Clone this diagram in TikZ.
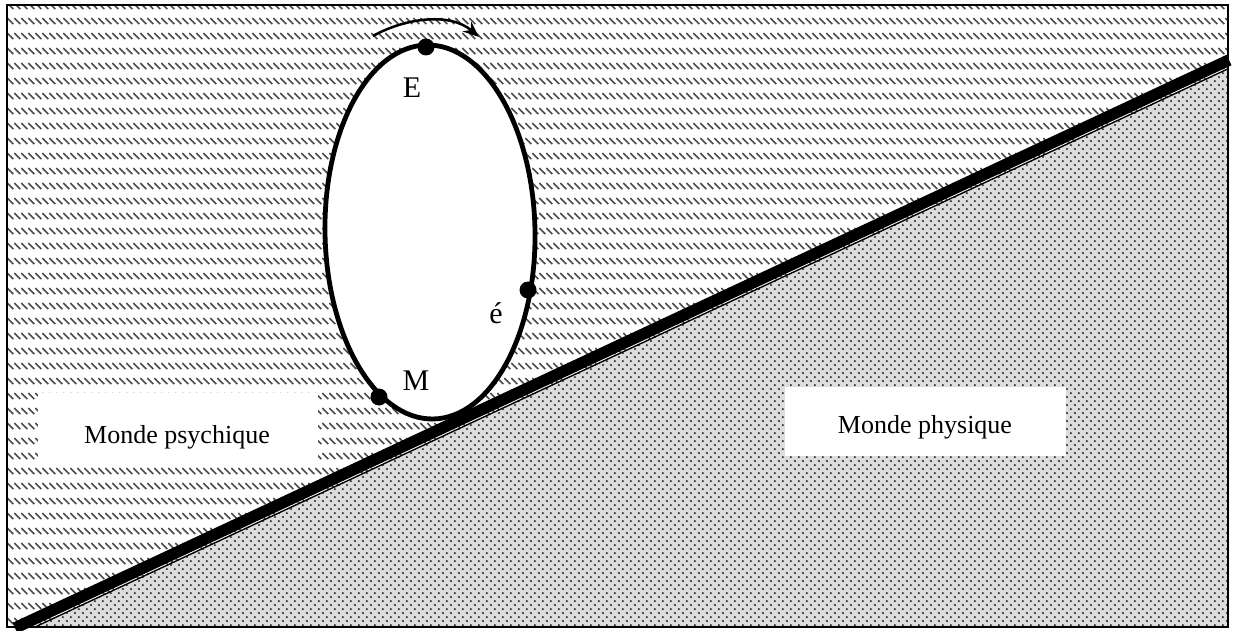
\documentclass[tikz,border=0pt]{standalone}
\usepackage{fontspec}
\setmainfont{Liberation Serif}
\usetikzlibrary{patterns,arrows.meta}
\pgfdeclarepatternformonly{dashhatch}{\pgfpointorigin}{\pgfpoint{7.3pt}{15pt}}{\pgfpoint{7.3pt}{15pt}}{%
  \pgfsetlinewidth{1.7pt}%
  \pgfpathmoveto{\pgfpoint{0.4pt}{13.8pt}}%
  \pgfpathlineto{\pgfpoint{6.9pt}{7.3pt}}%
  \pgfusepath{stroke}}
\pgfdeclarepatternformonly{dotgrid}{\pgfpointorigin}{\pgfpoint{8.4pt}{8.4pt}}{\pgfpoint{8.4pt}{8.4pt}}{%
  \pgfpathcircle{\pgfpoint{2.1pt}{2.1pt}}{1.2pt}%
  \pgfpathcircle{\pgfpoint{6.3pt}{6.3pt}}{1.2pt}%
  \pgfusepath{fill}}
\definecolor{hatchcol}{RGB}{75,75,75}
\definecolor{dotbg}{RGB}{220,220,220}
\definecolor{dotcol}{RGB}{35,35,35}
\tikzset{
  frame/.style={draw=black, line width=1.6},
  hatcharea/.style={pattern=dashhatch, pattern color=hatchcol},
  dotarea/.style={fill=dotbg},
  dotpattern/.style={pattern=dotgrid, pattern color=dotcol},
  divider/.style={line width=11.5, line cap=butt},
  label/.style={fill=white, inner sep=0pt},
  regiontext/.style={font=\fontsize{26}{30}\selectfont},
  ptlabel/.style={font=\fontsize{30}{34}\selectfont, inner sep=0pt},
  pointdot/.style={circle, fill=black, inner sep=0pt, minimum size=17},
  orbit/.style={draw=black, fill=white, line width=4.8},
  turn/.style={line width=2.5, -{Stealth[length=16, width=13]}}
}
\begin{document}
\begin{tikzpicture}[x=1pt, y=-1pt]
\useasboundingbox (0,0) rectangle (1233,631);
% hatched psychic world
\fill[hatcharea] (7,5) rectangle (1228,627);
% physical world
\fill[dotarea] (35,627) -- (1228,68.8) -- (1228,627) -- cycle;
\fill[dotpattern] (35,627) -- (1228,68.8) -- (1228,627) -- cycle;
\draw[line width=1.4] (35,627) -- (1228,68.8);
% text boxes
\node[label, minimum width=280, minimum height=69] (psy) at (178,427.5) {};
\node[regiontext] (psytxt) at (177,437) {Monde psychique};
\node[label, minimum width=281, minimum height=69] (phy) at (925.5,421.5) {};
\node[regiontext] (phytxt) at (925,427) {Monde physique};
% frame
\draw[frame] (7,5) rectangle (1228,627);
% dividing line
\coordinate (lineA) at (15,628);
\coordinate (lineB) at (1229,60);
\draw[divider] (lineA) -- (lineB);
% orbit ellipse
\coordinate (oc) at (430,232);
\draw[orbit, rotate around={1:(oc)}] (oc) ellipse [x radius=105, y radius=187];
% points
\node[pointdot] (E) at (426,47) {};
\node[pointdot] (e) at (528,290) {};
\node[pointdot] (M) at (379,397) {};
\node[ptlabel] (Elab) at (412,88) {E};
\node[ptlabel] (elab) at (496,313) {é};
\node[ptlabel] (Mlab) at (416,381) {M};
% rotation arrow
\coordinate (a1) at (373,36);
\coordinate (a2) at (479,37);
\draw[turn] (a1) .. controls (405,18) and (450,12) .. (a2);
\end{tikzpicture}
\end{document}
